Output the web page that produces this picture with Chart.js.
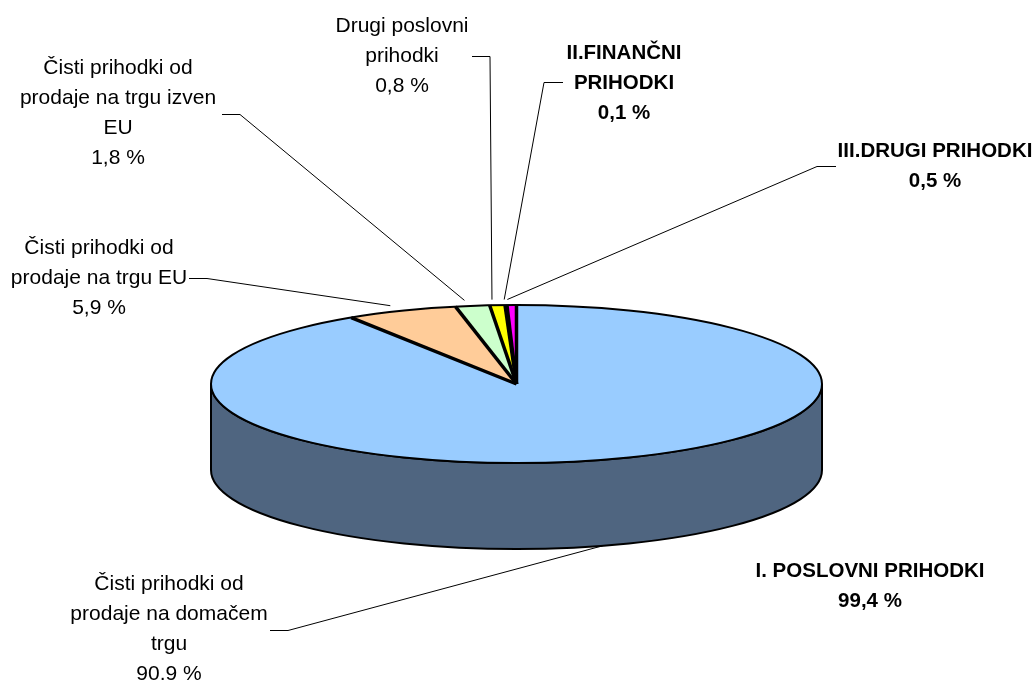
<!DOCTYPE html>
<html>
<head>
<meta charset="utf-8">
<title>Prihodki</title>
<script src="https://cdn.jsdelivr.net/npm/chart.js@4/dist/chart.umd.min.js"></script>
<style>
    html, body { margin: 0; padding: 0; background: #fff; overflow: hidden; }
    canvas { display: block; }
</style>
</head>
<body>
<canvas id="pieChart" width="1033" height="681"></canvas>
<script>
// Podatki
const categories = [
    'Čisti prihodki od prodaje na domačem trgu',
    'Čisti prihodki od prodaje na trgu EU',
    'Čisti prihodki od prodaje na trgu izven EU',
    'Drugi poslovni prihodki',
    'II.FINANČNI PRIHODKI',
    'III.DRUGI PRIHODKI'
];
const values = [90.9, 5.9, 1.8, 0.8, 0.1, 0.5];
const colors = ['#99CCFF', '#FFCC99', '#CCFFCC', '#FFFF00', '#FF00FF', '#FF00FF'];
const sideColor = '#4F6580';

const labelLines = [
    ['Čisti prihodki od', 'prodaje na domačem', 'trgu', '90.9 %'],
    ['Čisti prihodki od', 'prodaje na trgu EU', '5,9 %'],
    ['Čisti prihodki od', 'prodaje na trgu izven', 'EU', '1,8 %'],
    ['Drugi poslovni', 'prihodki', '0,8 %'],
    ['II.FINANČNI', 'PRIHODKI', '0,1 %'],
    ['III.DRUGI PRIHODKI', '0,5 %']
];
const groupLabel = ['I. POSLOVNI PRIHODKI', '99,4 %'];

// Postavitev oznak: sredina besedila, prva osnovna črta, začetek in koleno črte
const labelBox = [
    { x: 169, y: 590, from: [270, 630], knee: [288, 630], nudge: 0, bold: false },
    { x: 99, y: 254, from: [189, 278], knee: [207, 278], nudge: -3, bold: false },
    { x: 118, y: 74, from: [222, 114], knee: [240, 114], nudge: -5, bold: false },
    { x: 402, y: 32, from: [472, 56], knee: [490, 56], nudge: -4, bold: false },
    { x: 624, y: 59, from: [563, 82], knee: [544, 82], nudge: -1, bold: true },
    { x: 935, y: 157, from: [836, 166], knee: [817, 166], nudge: -4, bold: true }
];
const groupBox = { x: 870, y: 577, bold: true };

const rx = 305.5;
const ry = 79;
const depth = 86;
const lineHeight = 30;
const fontSize = 21;
const boldSize = 20.5;

const squash = {
    id: 'squash',
    beforeDatasetsDraw(chart) {
        const ctx = chart.ctx;
        const { x, y } = chart.getDatasetMeta(0).data[0];
        // stranica torte
        ctx.save();
        ctx.beginPath();
        ctx.ellipse(x, y, rx, ry, 0, 0, Math.PI);
        ctx.lineTo(x - rx, y + depth);
        ctx.ellipse(x, y + depth, rx, ry, 0, Math.PI, 0, true);
        ctx.closePath();
        ctx.fillStyle = sideColor;
        ctx.fill();
        ctx.lineWidth = 2;
        ctx.strokeStyle = '#000';
        ctx.stroke();
        ctx.restore();
        // vrh torte sploščimo
        ctx.save();
        ctx.translate(0, y);
        ctx.scale(1, ry / rx);
        ctx.translate(0, -y);
    },
    afterDatasetsDraw(chart) {
        const ctx = chart.ctx;
        ctx.restore();
        const arcs = chart.getDatasetMeta(0).data;
        const { x, y } = arcs[0];
        ctx.save();
        ctx.strokeStyle = '#000';
        ctx.lineJoin = 'round';
        ctx.lineWidth = 2;
        ctx.beginPath();
        ctx.ellipse(x, y, rx, ry, 0, 0, Math.PI * 2);
        ctx.stroke();
        ctx.lineWidth = 3.5;
        arcs.forEach(arc => {
            ctx.beginPath();
            ctx.moveTo(x, y);
            ctx.lineTo(x + rx * Math.cos(arc.startAngle), y + ry * Math.sin(arc.startAngle));
            ctx.stroke();
        });
        ctx.restore();
    }
};

const labels3d = {
    id: 'labels3d',
    afterDraw(chart) {
        const ctx = chart.ctx;
        const arcs = chart.getDatasetMeta(0).data;
        ctx.save();
        ctx.fillStyle = '#000';
        ctx.textAlign = 'center';
        ctx.textBaseline = 'alphabetic';

        labelLines.forEach((lines, i) => {
            const box = labelBox[i];
            ctx.font = box.bold
                ? `bold ${boldSize}px "Liberation Sans", Arial, sans-serif`
                : `${fontSize}px "Liberation Sans", Arial, sans-serif`;
            lines.forEach((line, j) => ctx.fillText(line, box.x, box.y + j * lineHeight));

            // vodilna črta do sredine rezine
            const mid = (arcs[i].startAngle + arcs[i].endAngle) / 2;
            const front = Math.sin(mid) > 0;
            const grow = front ? 1 : 1.07;
            const endX = arcs[i].x + rx * grow * Math.cos(mid) + box.nudge;
            const endY = arcs[i].y + ry * grow * Math.sin(mid) + (front ? depth : 0);
            ctx.beginPath();
            ctx.moveTo(box.from[0], box.from[1] + 0.5);
            ctx.lineTo(box.knee[0], box.knee[1] + 0.5);
            ctx.lineTo(endX, endY);
            ctx.lineWidth = 1;
            ctx.strokeStyle = '#000';
            ctx.stroke();
        });

        ctx.font = `bold ${boldSize}px "Liberation Sans", Arial, sans-serif`;
        groupLabel.forEach((line, j) => ctx.fillText(line, groupBox.x, groupBox.y + j * lineHeight));
        ctx.restore();
    }
};

new Chart(document.getElementById('pieChart'), {
    type: 'pie',
    data: {
        labels: categories,
        datasets: [{
            data: values,
            backgroundColor: colors,
            borderWidth: 0,
            radius: rx,
            clip: false
        }]
    },
    options: {
        responsive: false,
        animation: false,
        layout: { padding: { top: 87 } },
        plugins: { legend: { display: false }, tooltip: { enabled: false } }
    },
    plugins: [squash, labels3d]
});
</script>
</body>
</html>
